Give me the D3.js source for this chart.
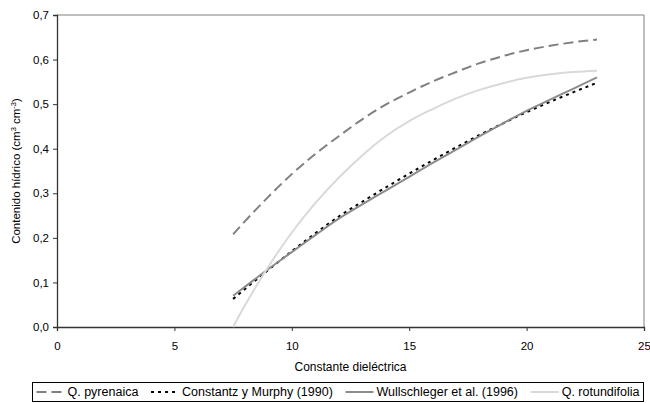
<!DOCTYPE html>
<html lang="es">
<head>
  <meta charset="UTF-8">
  <title>Contenido hídrico</title>
  <script src="https://d3js.org/d3.v7.min.js"></script>
  <style>
    body { margin: 0; background: #fff; font-family: "Liberation Sans", Arial, sans-serif; }
    .tick text { font-size: 11.5px; fill: #000; }
  </style>
</head>
<body>
<script>
  // Constante dieléctrica (x) and water content (y) per series
  var kaValues = [7.5, 8, 9, 10, 11, 12, 13, 14, 15, 16, 17, 18, 19, 20, 21, 22, 23];
  var pyrenaica = [0.208, 0.237, 0.292, 0.343, 0.388, 0.428, 0.466, 0.499, 0.526, 0.551, 0.572, 0.592, 0.608, 0.621, 0.631, 0.639, 0.645];
  var constantz = [0.063, 0.085, 0.128, 0.170, 0.210, 0.248, 0.281, 0.313, 0.344, 0.374, 0.403, 0.431, 0.457, 0.482, 0.505, 0.527, 0.548];
  var wullschleger = [0.070, 0.090, 0.130, 0.168, 0.206, 0.243, 0.275, 0.306, 0.337, 0.368, 0.398, 0.428, 0.457, 0.485, 0.510, 0.535, 0.560];
  var rotundifolia = [0.000, 0.048, 0.135, 0.212, 0.278, 0.335, 0.385, 0.428, 0.462, 0.489, 0.513, 0.532, 0.547, 0.559, 0.567, 0.572, 0.575];
  var xTicks = [0, 5, 10, 15, 20, 25];
  var yTicks = [0, 0.1, 0.2, 0.3, 0.4, 0.5, 0.6, 0.7];

  var series = [
    { name: "Q. pyrenaica", values: pyrenaica, color: "#808080", width: 2, dash: "10,5" },
    { name: "Constantz y Murphy (1990)", values: constantz, color: "#000", width: 2, dash: "3,4" },
    { name: "Wullschleger et al. (1996)", values: wullschleger, color: "#8c8c8c", width: 2, dash: null },
    { name: "Q. rotundifolia", values: rotundifolia, color: "#d9d9d9", width: 2, dash: null }
  ];

  var W = 650, H = 403;
  var margin = { top: 15, right: 6, bottom: 76, left: 57 };

  var svg = d3.select("body").append("svg")
    .attr("width", W)
    .attr("height", H);

  var x = d3.scaleLinear().domain([0, 25]).range([margin.left, W - margin.right]);
  var y = d3.scaleLinear().domain([0, 0.7]).range([H - margin.bottom, margin.top]);

  var fmt = function (d) { return d3.format(".1f")(d).replace(".", ","); };

  // frame (top and right, gray)
  svg.append("path")
    .attr("d", "M" + x(0) + "," + y(0.7) + "H" + x(25) + "V" + y(0))
    .attr("fill", "none")
    .attr("stroke", "#808080")
    .attr("stroke-width", 1);

  // axes
  var yAxis = svg.append("g")
    .attr("transform", "translate(" + x(0) + ",0)")
    .call(d3.axisLeft(y).tickValues(yTicks).tickFormat(fmt).tickSize(4).tickPadding(4));
  var xAxis = svg.append("g")
    .attr("transform", "translate(0," + y(0) + ")")
    .call(d3.axisBottom(x).tickValues(xTicks).tickFormat(d3.format("d")).tickSize(4).tickPadding(11));
  [yAxis, xAxis].forEach(function (g) {
    g.select(".domain").attr("stroke", "#333").attr("stroke-width", 1.3);
    g.selectAll(".tick line").attr("stroke", "#333");
    g.attr("font-family", "Liberation Sans, Arial, sans-serif");
  });

  // lines
  var line = d3.line()
    .x(function (d, i) { return x(kaValues[i]); })
    .y(function (d) { return y(d); })
    .curve(d3.curveMonotoneX);

  series.forEach(function (s) {
    svg.append("path")
      .datum(s.values)
      .attr("fill", "none")
      .attr("stroke", s.color)
      .attr("stroke-width", s.width)
      .attr("stroke-dasharray", s.dash)
      .attr("d", line);
  });

  // axis titles
  svg.append("text")
    .attr("x", (x(0) + x(25)) / 2)
    .attr("y", 371)
    .attr("text-anchor", "middle")
    .attr("font-size", 12)
    .text("Constante dieléctrica");

  var yl = svg.append("text")
    .attr("transform", "translate(20," + (y(0.35)) + ") rotate(-90)")
    .attr("text-anchor", "middle")
    .attr("font-size", 11.5);
  yl.append("tspan").text("Contenido hídrico (cm");
  yl.append("tspan").attr("font-size", 7.5).attr("dy", -4).text("3");
  yl.append("tspan").attr("dy", 4).text(" cm");
  yl.append("tspan").attr("font-size", 7.5).attr("dy", -4).text("-3");
  yl.append("tspan").attr("dy", 4).text(")");

  // legend
  var legend = svg.append("g");
  var boxL = 32.5, boxR = 643.5;
  legend.append("rect")
    .attr("x", boxL).attr("y", 382.5)
    .attr("width", boxR - boxL).attr("height", 19)
    .attr("fill", "#fff")
    .attr("stroke", "#000")
    .attr("stroke-width", 1);

  var sampleW = 28, pad = 3;
  var items = series.map(function (s) {
    var t = legend.append("text")
      .attr("y", 396)
      .attr("font-size", 12.5)
      .text(s.name);
    return { s: s, t: t, w: t.node().getComputedTextLength() };
  });
  var used = d3.sum(items, function (d) { return d.w + sampleW + pad; });
  var gap = (boxR - boxL - 8 - used) / (items.length - 1);
  var lx = boxL + 4;
  items.forEach(function (d) {
    legend.append("line")
      .attr("x1", lx).attr("x2", lx + sampleW)
      .attr("y1", 392).attr("y2", 392)
      .attr("stroke", d.s.color)
      .attr("stroke-width", d.s.width)
      .attr("stroke-dasharray", d.s.dash);
    d.t.attr("x", lx + sampleW + pad);
    lx += sampleW + pad + d.w + gap;
  });
</script>
</body>
</html>
